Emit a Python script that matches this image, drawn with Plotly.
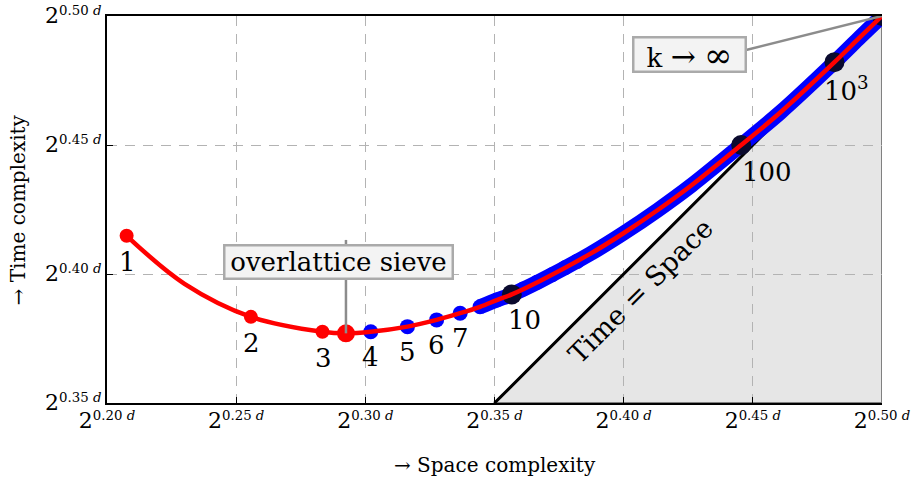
import plotly.graph_objects as go

# ---- data (exponents c of 2^{c d}) ----
curve_x = [0.2076, 0.2300, 0.2557, 0.2834, 0.2925, 0.3021, 0.3163, 0.3276, 0.3367, 0.3444, 0.3509,
           0.3567, 0.3676, 0.3870, 0.3999, 0.4132, 0.4264, 0.4455, 0.4605, 0.4816, 0.4915, 0.5000]
curve_y = [0.4148, 0.3962, 0.3834, 0.3776, 0.3770, 0.3776, 0.3796, 0.3822, 0.3848, 0.3873, 0.3899,
           0.3921, 0.3973, 0.4078, 0.4158, 0.4248, 0.4345, 0.4500, 0.4625, 0.4821, 0.4918, 0.5000]

red_k = ["1", "2", "3"]
red_x = [0.2076, 0.2557, 0.2834]
red_y = [0.4148, 0.3834, 0.3776]

overlattice_x = [0.2925]
overlattice_y = [0.3770]

blue_k = ["4", "5", "6", "7", "8", "9"]
blue_x = [0.3021, 0.3163, 0.3276, 0.3367, 0.3444, 0.3509]
blue_y = [0.3776, 0.3796, 0.3822, 0.3848, 0.3873, 0.3899]

band_dots_x = [0.3611, 0.3665, 0.3723, 0.3773, 0.3820]
band_dots_y = [0.3942, 0.3968, 0.3997, 0.4024, 0.4049]

band_x = [0.3444, 0.3509, 0.3567, 0.3676, 0.3870, 0.3999, 0.4132, 0.4264, 0.4455, 0.4605, 0.4816, 0.4915, 0.5000]
band_y = [0.3873, 0.3899, 0.3921, 0.3973, 0.4078, 0.4158, 0.4248, 0.4345, 0.4500, 0.4625, 0.4821, 0.4918, 0.5000]

black_k = ["10", "100", "10<sup>3</sup>", "∞"]
black_x = [0.3567, 0.4455, 0.4816, 0.5000]
black_y = [0.3921, 0.4500, 0.4821, 0.5000]

diag_x = [0.35, 0.50]
diag_y = [0.35, 0.50]

tick_vals_x = [0.20, 0.25, 0.30, 0.35, 0.40, 0.45, 0.50]
tick_vals_y = [0.35, 0.40, 0.45, 0.50]


def pow_label(v):
    return "<span style='font-size:22px'>2</span><sup>%.2f <i>d</i></sup>" % v


tick_text_x = [pow_label(v) for v in tick_vals_x]
tick_text_y = [pow_label(v) for v in tick_vals_y]

FONT = "DejaVu Serif"
BLUE = "#0000ff"
RED = "#ff0000"
DARK = "#0a0a2e"

fig = go.Figure()

fig.add_trace(go.Scatter(x=diag_x, y=diag_y, mode="lines",
                         line=dict(color="black", width=3), hoverinfo="skip"))
fig.add_trace(go.Scatter(x=band_x, y=band_y, mode="lines",
                         line=dict(color=BLUE, width=15, shape="spline", smoothing=0.8), hoverinfo="skip"))
fig.add_trace(go.Scatter(x=blue_x + band_dots_x, y=blue_y + band_dots_y, mode="markers",
                         marker=dict(color=BLUE, size=15), hoverinfo="skip"))
fig.add_trace(go.Scatter(x=black_x, y=black_y, mode="markers",
                         marker=dict(color=DARK, size=20), hoverinfo="skip"))
fig.add_trace(go.Scatter(x=curve_x, y=curve_y, mode="lines",
                         line=dict(color=RED, width=4.5, shape="spline", smoothing=1), hoverinfo="skip"))
fig.add_trace(go.Scatter(x=red_x, y=red_y, mode="markers",
                         marker=dict(color=RED, size=14), hoverinfo="skip"))
fig.add_trace(go.Scatter(x=overlattice_x, y=overlattice_y, mode="markers",
                         marker=dict(color=RED, size=18), hoverinfo="skip"))

shapes = [
    dict(type="path", path="M 0.35 0.35 L 0.5 0.5 L 0.5 0.35 Z", xref="x", yref="y",
         fillcolor="#e6e6e6", line=dict(color="#808080", width=2), layer="below"),
    dict(type="line", xref="x", yref="y", x0=overlattice_x[0], y0=overlattice_y[0],
         x1=overlattice_x[0], y1=0.4132, line=dict(color="#8c8c8c", width=2.5), layer="above"),
    dict(type="line", xref="x", yref="y", x0=0.4474, y0=0.4868,
         x1=black_x[3], y1=black_y[3], line=dict(color="#8c8c8c", width=2.5), layer="above"),
]

annotations = []
lab_font = dict(family=FONT, size=26, color="black")
for k, x, y in zip(red_k, red_x, red_y):
    annotations.append(dict(x=x, y=y, xref="x", yref="y", text=k, showarrow=False,
                            yshift=-26, xshift=1, font=lab_font))
for k, x, y in zip(blue_k[:4], blue_x[:4], blue_y[:4]):
    annotations.append(dict(x=x, y=y, xref="x", yref="y", text=k, showarrow=False,
                            yshift=-25, font=lab_font))
big_shifts = [(13, -26), (26, -27), (12, -27)]
for (k, x, y), (dx, dy) in zip(zip(black_k[:3], black_x[:3], black_y[:3]), big_shifts):
    annotations.append(dict(x=x, y=y, xref="x", yref="y", text=k, showarrow=False,
                            xshift=dx, yshift=dy, font=lab_font))

annotations.append(dict(x=0.2898, y=0.4048, xref="x", yref="y", text="overlattice sieve",
                        showarrow=False, font=dict(family=FONT, size=26, color="black"),
                        width=226, height=31,
                        bgcolor="#f3f3f3", bordercolor="#aaaaaa", borderwidth=2.5, borderpad=0))
annotations.append(dict(x=0.4253, y=0.4849, xref="x", yref="y",
                        text="k <span style='font-size:30px'>→</span> <span style='font-size:34px'>∞</span>",
                        showarrow=False, font=dict(family=FONT, size=26, color="black"),
                        width=110, height=32,
                        bgcolor="#f3f3f3", bordercolor="#aaaaaa", borderwidth=2.5, borderpad=0))
annotations.append(dict(x=0.4067, y=0.3935, xref="x", yref="y", text="Time = Space",
                        showarrow=False, textangle=-45, font=dict(family=FONT, size=27, color="black")))
annotations.append(dict(x=0.5, y=-0.16, xref="paper", yref="paper", text="→ Space complexity",
                        showarrow=False, yanchor="middle", font=dict(family=FONT, size=20, color="black")))
annotations.append(dict(x=-0.115, y=0.5, xref="paper", yref="paper", text="→ Time complexity",
                        showarrow=False, textangle=-90, xanchor="center",
                        font=dict(family=FONT, size=20, color="black")))

axis_common = dict(showgrid=True, gridcolor="#b3b3b3", griddash="10px,8px", gridwidth=1,
                   zeroline=False, showline=True, linecolor="black", linewidth=1.5,
                   ticks="inside", ticklen=6, tickcolor="black", tickwidth=1.2, automargin=False,
                   ticklabeloverflow="allow",
                   tickfont=dict(family=FONT, size=19, color="black"))

fig.update_layout(
    width=914, height=482,
    margin=dict(l=107, r=32, t=16, b=79),
    plot_bgcolor="white", paper_bgcolor="white",
    showlegend=False, hovermode=False,
    shapes=shapes, annotations=annotations,
    xaxis=dict(range=[0.2, 0.5], tickvals=tick_vals_x, ticktext=tick_text_x, mirror=True, **axis_common),
    yaxis=dict(range=[0.35, 0.5], tickvals=tick_vals_y, ticktext=tick_text_y, mirror=False, **axis_common),
)

# remove the default 8px page margin so the 914x482 figure fills the window exactly
fig.write_html("out.html", config={"displayModeBar": False},
               post_script="document.body.style.margin='0';")
